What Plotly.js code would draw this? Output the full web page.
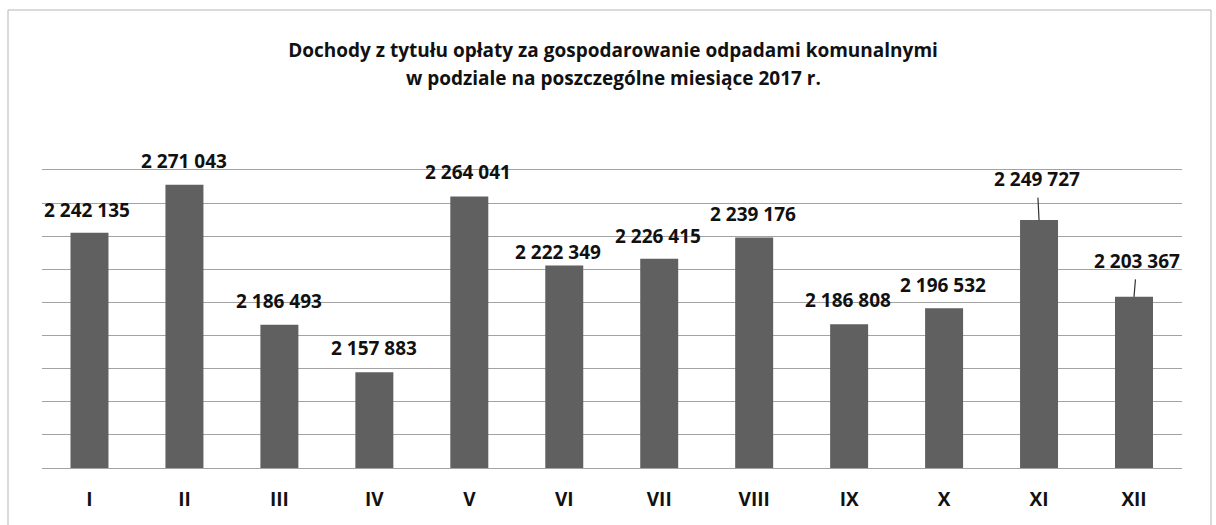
<!DOCTYPE html>
<html><head><meta charset="utf-8">
<script src="https://cdn.plot.ly/plotly-3.0.1.min.js"></script>
<style>html,body{margin:0;padding:0;background:#fff}#chart{width:1216px;height:525px}</style>
</head><body><div id="chart"></div>
<script>
const months = ['I','II','III','IV','V','VI','VII','VIII','IX','X','XI','XII'];
const revenue = [2242135, 2271043, 2186493, 2157883, 2264041, 2222349, 2226415, 2239176, 2186808, 2196532, 2249727, 2203367];
const titleLines = ['Dochody z tytułu opłaty za gospodarowanie odpadami komunalnymi', 'w podziale na poszczególne miesiące 2017 r.'];
const axisMin = 2100000, axisMax = 2280000, axisStep = 20000;

// label placement (pixels): [xshift, yshift] for plain labels, or leader-line offsets
const labelShift = [[-2,23],[0,24],[0,24],[0,24],[-1,24],[-6,13],[-1,23],[-1,24],[-1,24],[-1,23],null,null];
const leaderOffset = [null,null,null,null,null,null,null,null,null,null,[-2,-41],[3,-36]];

function fmt(v){ return String(v).replace(/\B(?=(\d{3})+(?!\d))/g, ' '); }

const labelFont = {family:'Open Sans, sans-serif', size:19, color:'#111', weight:700};
const annotations = months.map((m,i) => {
  if (leaderOffset[i]) {
    return {x:m, y:revenue[i], xref:'x', yref:'y', text:fmt(revenue[i]), font:labelFont,
      showarrow:true, arrowhead:0, arrowwidth:1.2, arrowcolor:'#333', ax:leaderOffset[i][0], ay:leaderOffset[i][1],
      startstandoff:4};
  }
  return {x:m, y:revenue[i], xref:'x', yref:'y', text:fmt(revenue[i]), font:labelFont,
    showarrow:false, xanchor:'center', yanchor:'middle', xshift:labelShift[i][0], yshift:labelShift[i][1]};
});
// second title line
annotations.push({xref:'paper', yref:'paper', x:(613-42)/1140, y:(468-78)/298, xanchor:'center', yanchor:'middle',
  showarrow:false, text:titleLines[1], font:{family:'Open Sans, sans-serif', size:19, color:'#111', weight:700}});

const data = [{
  type:'bar', x:months, y:revenue,
  marker:{color:'#606060', line:{width:0}},
  hoverinfo:'x+y'
}];

const layout = {
  width:1216, height:525,
  margin:{l:42, r:34, t:170, b:57, pad:0},
  paper_bgcolor:'#fff', plot_bgcolor:'#fff',
  title:{text:titleLines[0], x:613/1216, xanchor:'center', y:1-50/525, yanchor:'middle',
    font:{family:'Open Sans, sans-serif', size:19, color:'#111', weight:700}},
  bargap:0.6,
  showlegend:false,
  xaxis:{type:'category', showgrid:false, showline:true, mirror:true, linecolor:'#a3a3a3', linewidth:1,
    ticks:'', ticklabelstandoff:14, tickfont:{family:'Open Sans, sans-serif', size:19, color:'#111', weight:700},
    zeroline:false, fixedrange:true},
  yaxis:{range:[axisMin, axisMax], tick0:axisMin, dtick:axisStep, showticklabels:false, ticks:'',
    showgrid:true, gridcolor:'#a3a3a3', gridwidth:1, zeroline:false, showline:false, fixedrange:true},
  annotations:annotations,
  shapes:[{type:'rect', xref:'paper', yref:'paper', x0:(8-42)/1140, x1:(1211-42)/1140, y0:(468-540)/298, y1:(468-10)/298,
    line:{color:'#b5b5b5', width:1}, fillcolor:'rgba(0,0,0,0)', layer:'below'}]
};

Plotly.newPlot('chart', data, layout, {displayModeBar:false, staticPlot:true});
</script>
</body></html>
